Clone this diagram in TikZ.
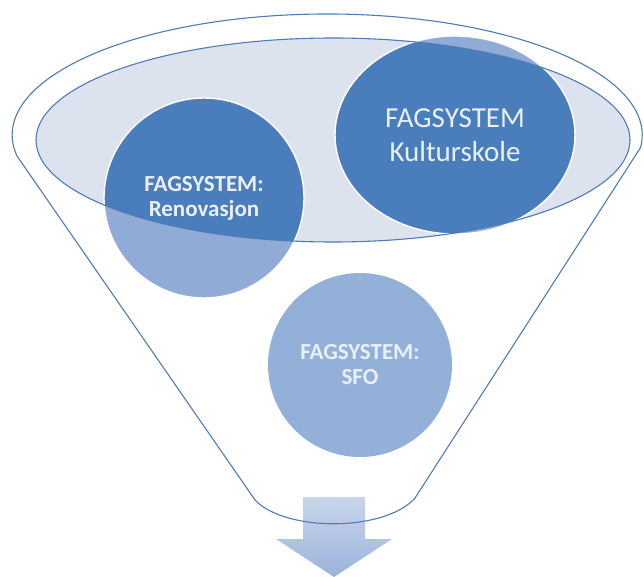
\documentclass[tikz,border=0pt]{standalone}
\usepackage{fontspec}
\setmainfont{Carlito}
\usetikzlibrary{shapes.geometric}

\definecolor{funnelline}{HTML}{4E7CB6}
\definecolor{rimfill}{HTML}{DCE3EE}
\definecolor{darkblob}{HTML}{4A7DBC}
\definecolor{lightblob}{HTML}{8FABD6}
\definecolor{sfoblob}{HTML}{93B0D9}
\definecolor{blobtext}{HTML}{EAF0F9}
\definecolor{arrowtop}{HTML}{C9D6EB}
\definecolor{arrowbot}{HTML}{9BB3DB}

% outline of the funnel: top rim, two sides, round bottom
\newcommand{\funnelpath}{(17,156) arc[start angle=170, end angle=366, x radius=315, y radius=121]
  -- (415,498) .. controls (385,532) and (285,532) .. (255,500) -- cycle}
\newcommand{\rimpath}{(333,140) ellipse [x radius=297, y radius=102]}

\begin{document}
\begin{tikzpicture}[x=1pt, y=-1pt,
    system/.style={circle, draw=white, line width=1.4pt, text=blobtext, align=center, inner sep=0pt},
    systemtext/.style={font=\bfseries\fontsize{23}{25}\selectfont},
    titletext/.style={font=\fontsize{29}{34}\selectfont},
    rimline/.style={draw=funnelline, line width=1.1pt}]
  \useasboundingbox (0,0) rectangle (644,577);

  % Funnel body
  \fill[white] \funnelpath;

  % Rim of the funnel
  \fill[rimfill] \rimpath;

  % Systems, light where they stick out of the rim
  \fill[lightblob] (204,198) circle [radius=100];
  \fill[lightblob] (455,135) ellipse [x radius=120, y radius=99];
  \begin{scope}
    \clip \rimpath;
    \fill[darkblob] (204,198) circle [radius=100];
    \fill[darkblob] (455,135) ellipse [x radius=120, y radius=99];
  \end{scope}

  \node[system, minimum size=200pt, systemtext] (renovasjon) at (204,198) {FAGSYSTEM:\\Renovasjon};
  \node[system, ellipse, minimum width=240pt, minimum height=198pt, titletext] (kulturskole) at (455,135) {FAGSYSTEM\\Kulturskole};
  \node[system, draw=none, fill=sfoblob, minimum size=184pt, systemtext] (sfo) at (360,365) {FAGSYSTEM:\\SFO};

  \draw[rimline] \rimpath;

  % Arrow out of the funnel
  \shade[top color=arrowtop, bottom color=arrowbot]
    (303,497) -- (365,497) -- (365,539) -- (392,539) -- (334,577) -- (276,539) -- (303,539) -- cycle;

  % Funnel outline
  \draw[rimline, line join=round] \funnelpath;
\end{tikzpicture}
\end{document}
